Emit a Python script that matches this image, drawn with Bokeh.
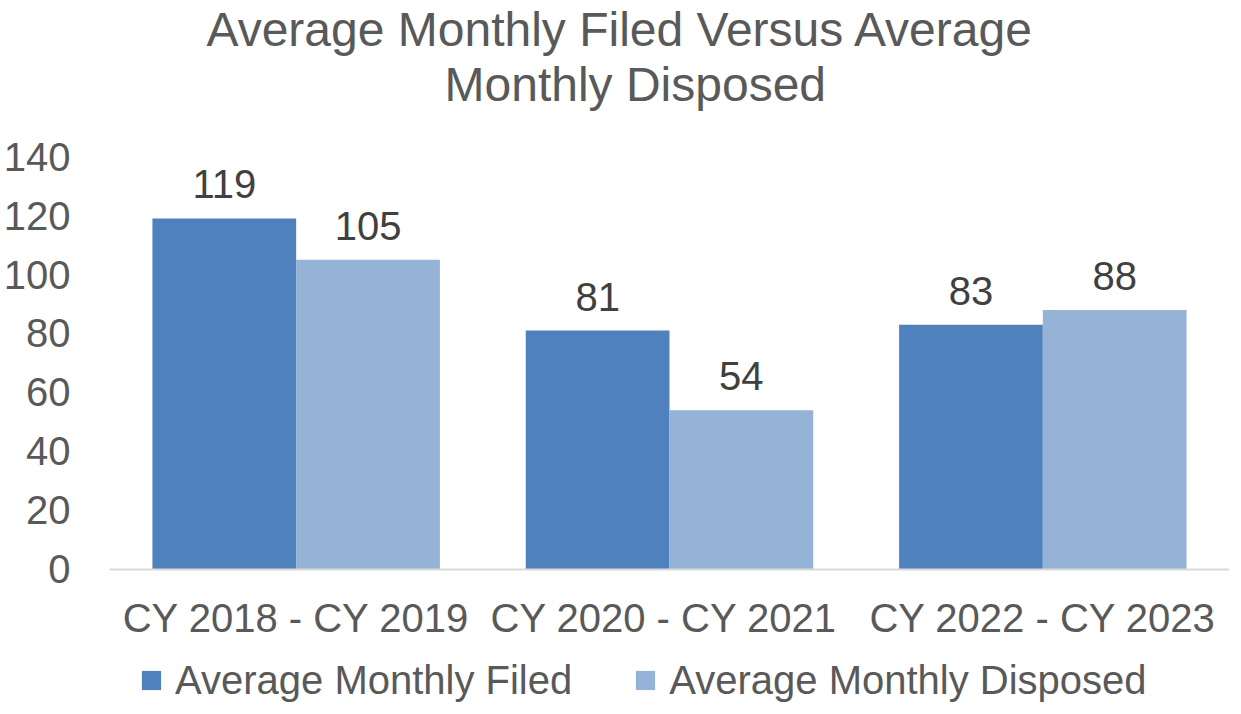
from bokeh.plotting import figure
from bokeh.models import ColumnDataSource, FactorRange, Range1d, Legend, LegendItem, FixedTicker, Title, Span
from bokeh.transform import dodge
from bokeh.core.properties import value
from bokeh.embed import file_html
from bokeh.resources import INLINE

categories = ["CY 2018 - CY 2019", "CY 2020 - CY  2021", "CY 2022 - CY 2023"]
filed = [119, 81, 83]
disposed = [105, 54, 88]
series_names = ["Average Monthly Filed", "Average Monthly Disposed"]
y_ticks = [0, 20, 40, 60, 80, 100, 120, 140]
title_lines = ["Average Monthly Filed Versus Average", "Monthly Disposed"]

FONT = "Liberation Sans"
GRAY = "#595959"
C_FILED = "#4f81bd"
C_DISP = "#95b3d7"

src = ColumnDataSource(dict(cat=categories, filed=filed, disposed=disposed,
                            base=[0] * len(categories),
                            filed_lbl=[str(v) for v in filed],
                            disp_lbl=[str(v) for v in disposed]))

p = figure(x_range=FactorRange(*categories, range_padding=0), y_range=Range1d(-45.1, 155.6),
           frame_width=1120, frame_height=592, output_backend="svg", toolbar_location=None,
           title=None, x_axis_location=None,
           min_border=0, min_border_left=105, min_border_right=0, min_border_bottom=0,
           min_border_top=0)

p.add_layout(Title(text=title_lines[1], align="left", text_font=FONT, text_font_size="48px",
                   text_font_style="normal", text_color=GRAY, offset=335, standoff=0), "above")
p.add_layout(Title(text=title_lines[0], align="left", text_font=FONT, text_font_size="48px",
                   text_font_style="normal", text_color=GRAY, offset=97, standoff=0), "above")

bw = 0.385
p.vbar(x=dodge("cat", -bw / 2, range=p.x_range), top="filed", width=bw, source=src,
       fill_color=C_FILED, line_color=None)
p.vbar(x=dodge("cat", bw / 2, range=p.x_range), top="disposed", width=bw, source=src,
       fill_color=C_DISP, line_color=None)

# legend proxies (zero size, only used for the legend swatches)
m1 = p.scatter(x="cat", y="base", source=src, marker="square", size=0,
               fill_color=C_FILED, line_color=None)
m2 = p.scatter(x="cat", y="base", source=src, marker="square", size=0,
               fill_color=C_DISP, line_color=None)

p.add_layout(Span(location=0, dimension="width", line_color="#d9d9d9", line_width=2))

p.text(x=dodge("cat", -bw / 2, range=p.x_range), y="filed", text="filed_lbl", source=src,
       text_font=value(FONT), text_font_size="40px", text_color="#404040",
       text_align="center", text_baseline="bottom", y_offset=-20)
p.text(x=dodge("cat", bw / 2, range=p.x_range), y="disposed", text="disp_lbl", source=src,
       text_font=value(FONT), text_font_size="40px", text_color="#404040",
       text_align="center", text_baseline="bottom", y_offset=-20)

# category labels
p.text(x="cat", y="base", text="cat", source=src,
       text_font=value(FONT), text_font_size="40px", text_color=GRAY,
       text_align="center", text_baseline="middle", y_offset=49)

p.xgrid.visible = False
p.ygrid.visible = False
p.outline_line_color = None

p.yaxis.ticker = FixedTicker(ticks=y_ticks)
p.yaxis.axis_line_color = None
p.yaxis.major_tick_line_color = None
p.yaxis.minor_tick_line_color = None
p.yaxis.major_label_text_font = FONT
p.yaxis.major_label_text_font_size = "40px"
p.yaxis.major_label_text_color = GRAY
p.yaxis.major_label_standoff = 33

legend = Legend(items=[LegendItem(label=series_names[0], renderers=[m1]),
                       LegendItem(label=series_names[1], renderers=[m2])],
                orientation="horizontal", location=(18, -2),
                label_text_font=FONT, label_text_font_size="40px", label_text_color=GRAY,
                glyph_width=48, glyph_height=48, label_standoff=0, spacing=49,
                border_line_color=None, background_fill_alpha=0, padding=0, margin=0)
p.add_layout(legend)

open("out.html", "w").write(file_html(p, INLINE))
